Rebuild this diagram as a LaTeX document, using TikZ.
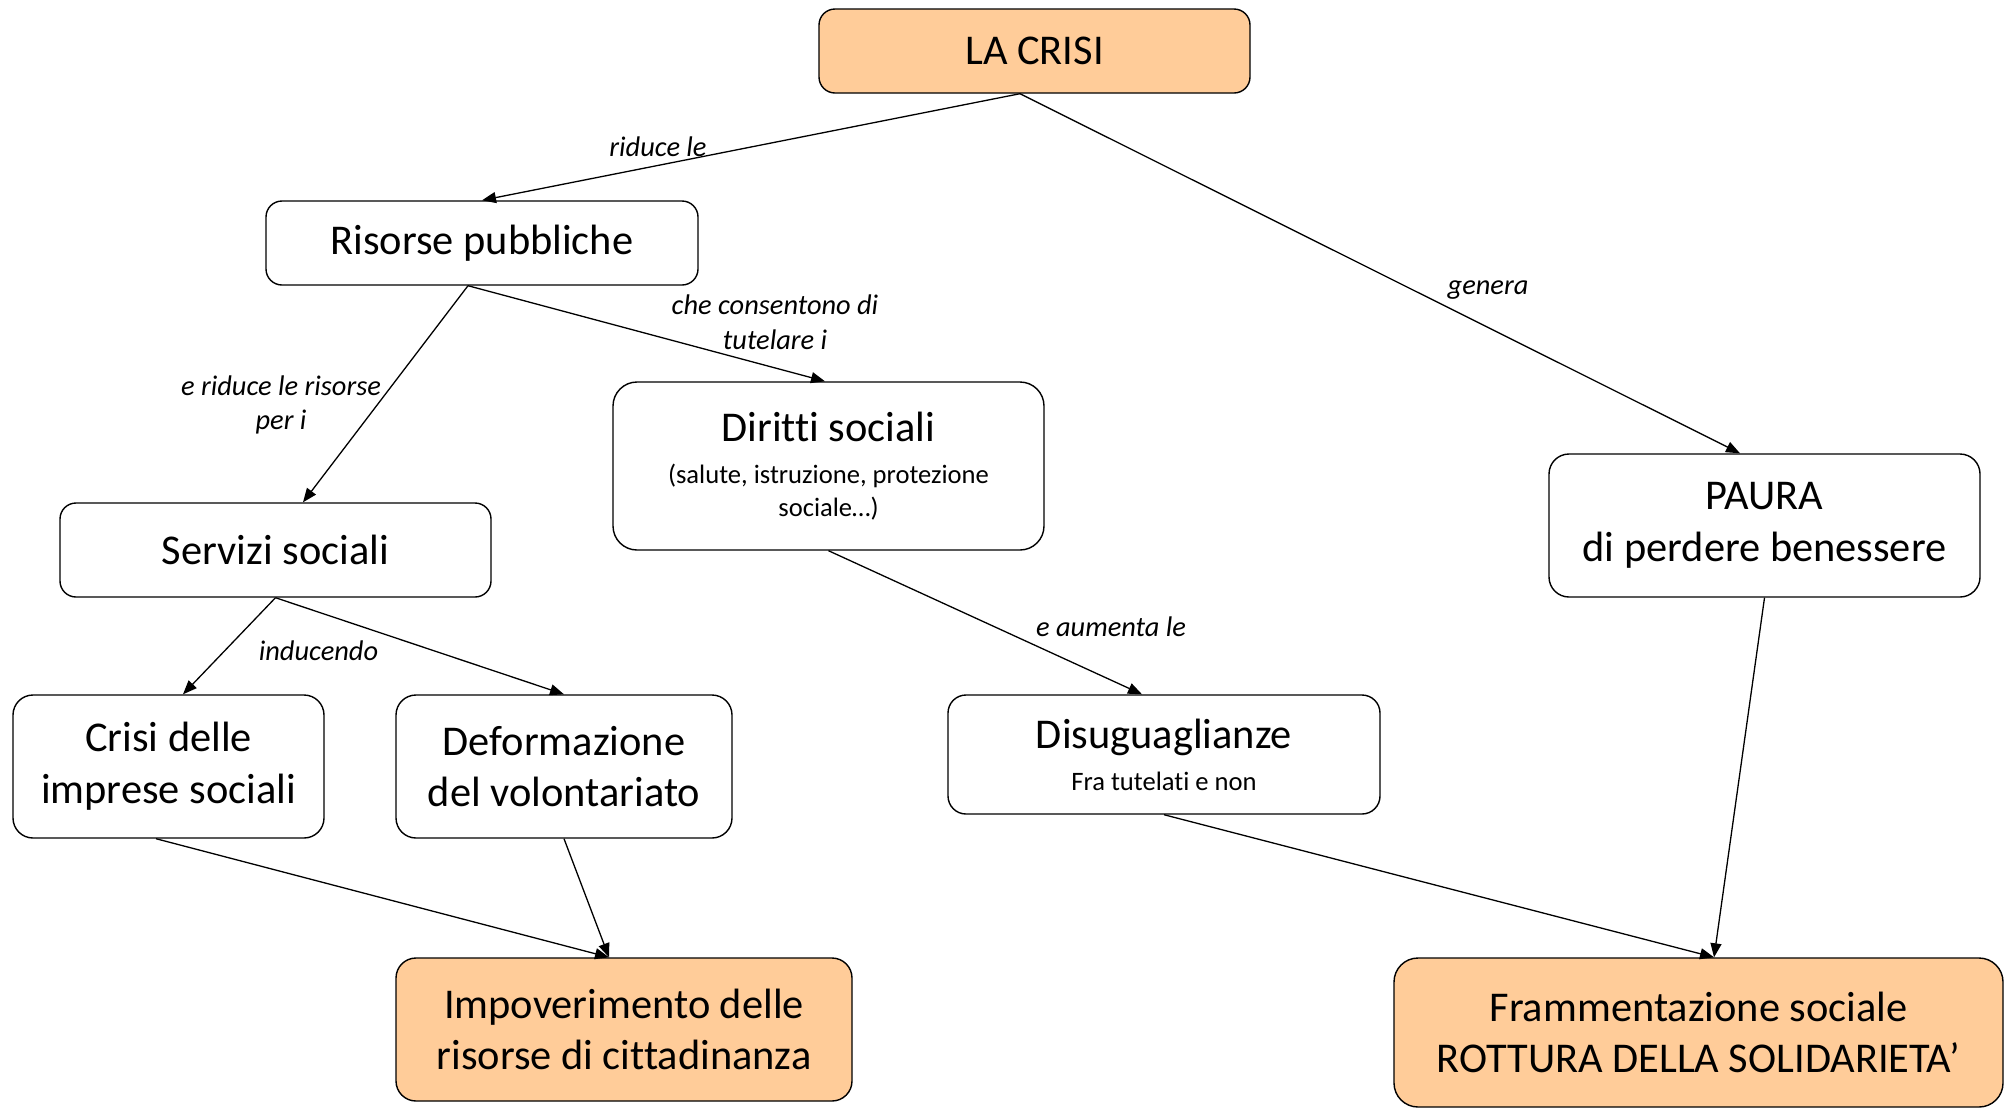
\documentclass[tikz,border=0pt]{standalone}
\usepackage{fontspec}
\setmainfont[Ligatures={NoCommon,NoContextual}]{Carlito}
\usetikzlibrary{arrows.meta}
\definecolor{peach}{HTML}{FFCC99}
\newcommand\mainsz{\fontsize{21.2}{25.9}\selectfont}
\newcommand\smallsz{\fontsize{13.3}{16.2}\selectfont}
\begin{document}
\begin{tikzpicture}[x=0.5pt,y=-0.5pt,
 box/.style={draw, line width=0.7pt, rounded corners=8pt, align=center, inner sep=0pt, font=\mainsz},
 hot/.style={box, fill=peach},
 lab/.style={font=\fontsize{14.2}{17.3}\selectfont\itshape, align=center, inner sep=0pt},
 conn/.style={-{Triangle[length=7pt,width=5.5pt]}, line width=0.65pt}]
\useasboundingbox (0,0) rectangle (2006,1109);
\node[hot, minimum width=215.5pt, minimum height=42pt] (crisi) at (1034.5,51) {LA CRISI};
\node[box, minimum width=216pt, minimum height=42pt] (risorse) at (482,243) {Risorse pubbliche};
\node[box, minimum width=215.5pt, minimum height=47pt] (servizi) at (275.5,550) {Servizi sociali};
\node[box, font=\smallsz, rounded corners=12pt, minimum width=215.5pt, minimum height=84pt] (diritti) at (828.5,466) {{\mainsz Diritti sociali}\\[4.8pt](salute, istruzione, protezione\\sociale…)};
\node[box, rounded corners=10pt, minimum width=215.5pt, minimum height=71.5pt] (paura) at (1764.5,525.5) {PAURA\\di perdere benessere};
\node[box, rounded corners=10pt, minimum width=155.5pt, minimum height=71.5pt] (imprese) at (168.5,766.5) {Crisi delle\\imprese sociali};
\node[box, rounded corners=10pt, minimum width=168pt, minimum height=71.5pt] (deform) at (564,766.5) {Deformazione\\del volontariato};
\node[box, font=\smallsz, rounded corners=9pt, minimum width=216pt, minimum height=59.5pt] (disug) at (1164,754.5) {{\mainsz Disuguaglianze}\\[4.8pt]Fra tutelati e non};
\node[hot, rounded corners=10pt, minimum width=228pt, minimum height=71.5pt] (impov) at (624,1029.5) {Impoverimento delle\\risorse di cittadinanza};
\node[hot, rounded corners=12pt, minimum width=304.5pt, minimum height=74.5pt] (framm) at (1698.5,1032.5) {Frammentazione sociale\\ROTTURA DELLA SOLIDARIETA’};

\draw[conn] ([xshift=-7.25pt]crisi.south) -- (risorse.north);
\draw[conn] ([xshift=-7.25pt]crisi.south) -- ([xshift=-12.25pt]paura.north);
\draw[conn] ([xshift=-7pt]risorse.south) -- ([xshift=13.75pt]servizi.north);
\draw[conn] ([xshift=-7pt]risorse.south) -- ([xshift=-1.75pt]diritti.north);
\draw[conn] (servizi.south) -- ([xshift=7.25pt]imprese.north);
\draw[conn] (servizi.south) -- (deform.north);
\draw[conn] (diritti.south) -- ([xshift=-11pt]disug.north);
\draw[conn] ([xshift=-6.25pt]imprese.south) -- ([xshift=-7.5pt]impov.north);
\draw[conn] (deform.south) -- ([xshift=-7.5pt]impov.north);
\draw[conn] (disug.south) -- ([xshift=7.75pt]framm.north);
\draw[conn] (paura.south) -- ([xshift=7.75pt]framm.north);

\node[lab] (l1) at (658,147) {riduce le};
\node[lab] (l2) at (1488,290) {genera};
\node[lab] (l3) at (281,405) {e riduce le risorse\\per i};
\node[lab] (l4) at (775,322) {che consentono di\\tutelare i};
\node[lab] (l5) at (318.5,651) {inducendo};
\node[lab] (l6) at (1111,627) {e aumenta le};
\end{tikzpicture}
\end{document}
